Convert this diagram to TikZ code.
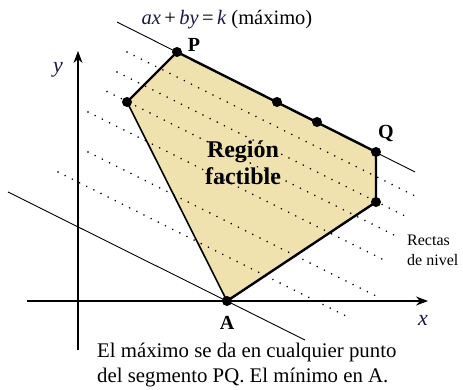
\documentclass[tikz,border=0pt]{standalone}
\usepackage{fontspec}
\setmainfont{LiberationSerif}[
  Extension=.ttf,
  UprightFont=*-Regular,
  BoldFont=*-Bold,
  ItalicFont=*-Italic,
  BoldItalicFont=*-BoldItalic]
\usetikzlibrary{arrows.meta}
\definecolor{regionfill}{RGB}{240,226,174}
\definecolor{mathink}{RGB}{25,25,70}
\begin{document}
\begin{tikzpicture}[x=1pt,y=-1pt,
  lvl/.style={line width=1.8pt, dash pattern=on 0.01pt off 8pt, line cap=round},
  edgethick/.style={line width=2.4pt, line join=round},
  edgethin/.style={line width=1.6pt},
  axis/.style={line width=1.1pt, -{Stealth[length=12pt,width=9pt]}},
  objline/.style={line width=0.9pt},
  vtx/.style={circle, fill=black, inner sep=0pt, minimum size=10pt},
  ptlabel/.style={font=\rmfamily\fontsize{20}{24}\selectfont\bfseries, inner sep=0pt},
  varlabel/.style={font=\rmfamily\fontsize{22}{24}\selectfont\itshape, text=mathink, inner sep=0pt},
]
\useasboundingbox (0,0) rectangle (463,390);

% vertices
\coordinate (P) at (177,52);
\coordinate (L) at (127,102);
\coordinate (A) at (227,301);
\coordinate (R) at (376,202);
\coordinate (Q) at (376,152);
\coordinate (M1) at (277,102);
\coordinate (M2) at (317,122);

% feasible region fill
\fill[regionfill] (P) -- (Q) -- (R) -- (A) -- (L) -- cycle;

% level lines
\coordinate (l1a) at (127,52);  \coordinate (l1b) at (420,198.5);
\coordinate (l2a) at (117,72);  \coordinate (l2b) at (410,218.5);
\coordinate (l3a) at (107,91.5); \coordinate (l3b) at (400,238);
\coordinate (l4a) at (88,112);  \coordinate (l4b) at (382,259);
\coordinate (l5a) at (88,152);  \coordinate (l5b) at (380,298);
\coordinate (l6a) at (58,172);  \coordinate (l6b) at (350,318);
\foreach \i in {1,...,6} { \draw[lvl] (l\i a) -- (l\i b); }

% axes
\coordinate (xs) at (27,301);  \coordinate (xe) at (428,301);
\coordinate (ys) at (78,350);  \coordinate (ye) at (78,51);
\draw[axis] (xs) -- (xe);
\draw[axis] (ys) -- (ye);

% objective lines
\coordinate (maxa) at (117,22); \coordinate (maxb) at (415,172);
\coordinate (mina) at (8,192);  \coordinate (minb) at (305,340);
\draw[objline] (maxa) -- (maxb);
\draw[objline] (mina) -- (minb);

% polygon edges
\draw[edgethick] (A) -- (R) -- (Q) -- (P) -- (L);
\draw[edgethin] (L) -- (A);

% vertex dots
\foreach \v in {P,L,A,R,Q,M1,M2} { \node[vtx] (d\v) at (\v) {}; }

% labels
\node[ptlabel] (labP) at (194,45) {P};
\node[ptlabel] (labQ) at (386,134) {Q};
\node[ptlabel] (labA) at (227,323) {A};
\node[varlabel] (laby) at (58,70) {y};
\node[varlabel] (labx) at (423,320) {x};

\node[inner sep=0pt, font=\rmfamily\fontsize{20.5}{24}\selectfont] (title) at (227,20)
  {\textcolor{mathink}{\itshape ax}\,+\,\textcolor{mathink}{\itshape by}\,=\,\textcolor{mathink}{\itshape k} (máximo)};

\node[inner sep=0pt, align=center, font=\rmfamily\fontsize{24}{27}\selectfont\bfseries] (region) at (243,163)
  {Región\\factible};

\node[inner sep=0pt, anchor=west, align=left, font=\rmfamily\fontsize{16}{20}\selectfont] (rectas) at (407,250)
  {Rectas\\de nivel};

\node[inner sep=0pt, anchor=west, align=left, font=\rmfamily\fontsize{20.8}{25}\selectfont] (caption) at (97,365)
  {El máximo se da en cualquier punto\\del segmento PQ. El mínimo en A.};
\end{tikzpicture}
\end{document}
